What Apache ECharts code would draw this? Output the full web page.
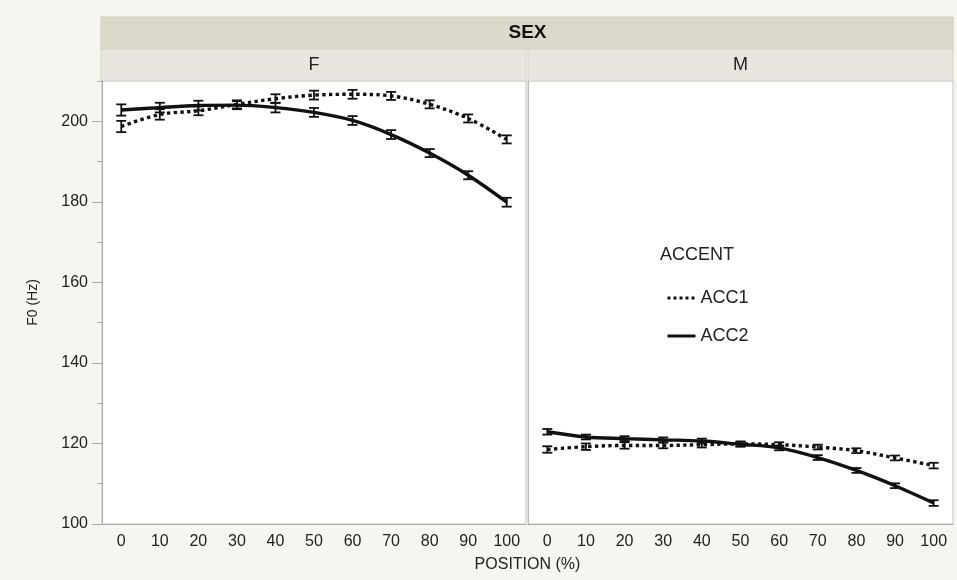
<!DOCTYPE html>
<html><head><meta charset="utf-8">
<script src="https://cdn.jsdelivr.net/npm/echarts@6/dist/echarts.min.js"></script>
<style>html,body{margin:0;padding:0;background:#f6f6f1}#c{width:957px;height:580px}</style>
</head><body><div id="c"></div>
<script>
const positions = ['0','10','20','30','40','50','60','70','80','90','100'];
const panels = ['F','M'];
const seriesNames = ['ACC1','ACC2'];
const F_ACC1 = [198.7,201.7,202.6,204.2,205.6,206.5,206.7,206.3,204.2,200.7,195.5];
const F_ACC2 = [202.8,203.4,203.9,204.0,203.4,202.2,200.2,196.7,192.1,186.6,179.9];
const M_ACC1 = [118.5,119.2,119.5,119.5,119.7,119.9,119.7,119.1,118.2,116.4,114.5];
const M_ACC2 = [122.9,121.6,121.2,120.9,120.6,119.8,118.9,116.5,113.3,109.5,105.2];
const F_ACC1_err = [1.4,1.3,1.1,1.0,1.1,1.1,1.1,1.0,1.0,1.0,1.0];
const F_ACC2_err = [1.4,1.2,1.2,1.0,1.2,1.1,1.1,1.1,1.0,1.0,1.1];
const M_ACC1_err = [0.8,0.8,0.8,0.7,0.7,0.6,0.6,0.6,0.6,0.6,0.7];
const M_ACC2_err = [0.7,0.6,0.6,0.6,0.6,0.6,0.6,0.6,0.6,0.6,0.7];
const yTicks = [100,120,140,160,180,200];

const G = {top:81, bottom:56, l0:102, w0:424, l1:528, w1:425};
const font = '"Liberation Sans", Arial, Helvetica, sans-serif';

function errData(vals, errs){ return vals.map((v,i)=>[i, v-errs[i], v+errs[i]]); }
function errRender(params, api){
  const lo = api.coord([api.value(0), api.value(1)]);
  const hi = api.coord([api.value(0), api.value(2)]);
  const c = 5;
  const st = {stroke:'#111', lineWidth:1.8};
  return {type:'group', children:[
    {type:'line', shape:{x1:lo[0],y1:lo[1],x2:hi[0],y2:hi[1]}, style:st},
    {type:'line', shape:{x1:lo[0]-c,y1:lo[1],x2:lo[0]+c,y2:lo[1]}, style:st},
    {type:'line', shape:{x1:hi[0]-c,y1:hi[1],x2:hi[0]+c,y2:hi[1]}, style:st}
  ]};
}
const chart = echarts.init(document.getElementById('c'), null, {renderer:'canvas'});
const axisLabelStyle = {color:'#222', fontSize:16, fontFamily:font};
const grids = [
  {left:G.l0, width:G.w0, top:G.top, bottom:G.bottom, show:true, backgroundColor:'#fff', borderColor:'#c4c4c4', borderWidth:1},
  {left:G.l1, width:G.w1, top:G.top, bottom:G.bottom, show:true, backgroundColor:'#fff', borderColor:'#c4c4c4', borderWidth:1}
];
const xAxes = [0,1].map(g=>({type:'category', gridIndex:g, data:positions, boundaryGap:true,
  axisLine:{lineStyle:{color:'#aaa'}}, axisTick:{show:false},
  axisLabel:Object.assign({margin:10}, axisLabelStyle), splitLine:{show:false}}));
const yAxes = [
  {type:'value', gridIndex:0, min:100, max:210, interval:10,
   axisLine:{show:true, lineStyle:{color:'#aaa'}}, axisTick:{show:true, length:5, lineStyle:{color:'#aaa'}},
   axisLabel:Object.assign({margin:14, formatter:v=> yTicks.includes(v)? String(v):''}, axisLabelStyle),
   splitLine:{show:false},
   name:'F0 (Hz)', nameLocation:'middle', nameGap:62, nameRotate:90, nameTextStyle:{color:'#222', fontSize:14, fontFamily:font}},
  {type:'value', gridIndex:0, min:100, max:210, interval:20, position:'left',
   axisLine:{show:false}, axisTick:{show:true, length:10, customValues:yTicks, lineStyle:{color:'#aaa'}},
   axisLabel:{show:false}, splitLine:{show:false}},
  {type:'value', gridIndex:1, min:100, max:210, interval:10,
   axisLine:{show:true, lineStyle:{color:'#bbb'}}, axisTick:{show:false}, axisLabel:{show:false}, splitLine:{show:false}}
];
const lineDefs = [
  {name:'ACC1', x:0, y:0, data:F_ACC1, type:'dotted'},
  {name:'ACC2', x:0, y:0, data:F_ACC2, type:'solid'},
  {name:'ACC1', x:1, y:2, data:M_ACC1, type:'dotted'},
  {name:'ACC2', x:1, y:2, data:M_ACC2, type:'solid'}
];
const series = [];
lineDefs.forEach(d=>{
  series.push({type:'line', name:d.name, xAxisIndex:d.x, yAxisIndex:d.y, data:d.data, smooth:0.35,
    symbol:'none', itemStyle:{color:'#111'}, lineStyle:{color:'#111', width:3.4, type:d.type}, z:3});
});
[[F_ACC1,F_ACC1_err,0,0],[F_ACC2,F_ACC2_err,0,0],[M_ACC1,M_ACC1_err,1,2],[M_ACC2,M_ACC2_err,1,2]].forEach(a=>{
  series.push({type:'custom', xAxisIndex:a[2], yAxisIndex:a[3], data:errData(a[0],a[1]),
    renderItem:errRender, encode:{x:0, y:[1,2]}, z:4, silent:true});
});
const hdrTop = 17, hdrH = 32;
const option = {
  backgroundColor:'#f6f6f1',
  animation:false,
  grid:grids, xAxis:xAxes, yAxis:yAxes, series:series,
  legend:{data:seriesNames, orient:'vertical', left:661, top:284, itemGap:20, itemWidth:28, itemHeight:10,
    itemStyle:{opacity:0}, lineStyle:{width:3}, textStyle:{color:'#222', fontSize:18, fontFamily:font}, selectedMode:false},
  graphic:[
    {type:'rect', shape:{x:G.l0-1, y:hdrTop, width:G.l1+G.w1-G.l0+1, height:hdrH}, style:{fill:'#dcd9cb', stroke:'#cfccbf'}},
    {type:'text', x:(G.l0+G.l1+G.w1)/2, y:hdrTop+hdrH/2, style:{text:'SEX', fill:'#111', font:'bold 19px '+font, textAlign:'center', textVerticalAlign:'middle'}},
    {type:'rect', shape:{x:G.l0-1, y:hdrTop+hdrH, width:G.w0+1, height:G.top-hdrTop-hdrH}, style:{fill:'#e8e6de', stroke:'#d6d3c8'}},
    {type:'rect', shape:{x:G.l1, y:hdrTop+hdrH, width:G.w1, height:G.top-hdrTop-hdrH}, style:{fill:'#e8e6de', stroke:'#d6d3c8'}},
    {type:'text', x:G.l0+G.w0/2, y:hdrTop+hdrH+(G.top-hdrTop-hdrH)/2, style:{text:panels[0], fill:'#222', font:'18px '+font, textAlign:'center', textVerticalAlign:'middle'}},
    {type:'text', x:G.l1+G.w1/2, y:hdrTop+hdrH+(G.top-hdrTop-hdrH)/2, style:{text:panels[1], fill:'#222', font:'18px '+font, textAlign:'center', textVerticalAlign:'middle'}},
    {type:'text', x:660, y:246, style:{text:'ACCENT', fill:'#222', font:'18px '+font}},
    {type:'text', x:(G.l0+G.l1+G.w1)/2, y:557, style:{text:'POSITION (%)', fill:'#222', font:'16px '+font, textAlign:'center'}}
  ]
};
chart.setOption(option);
</script></body></html>
